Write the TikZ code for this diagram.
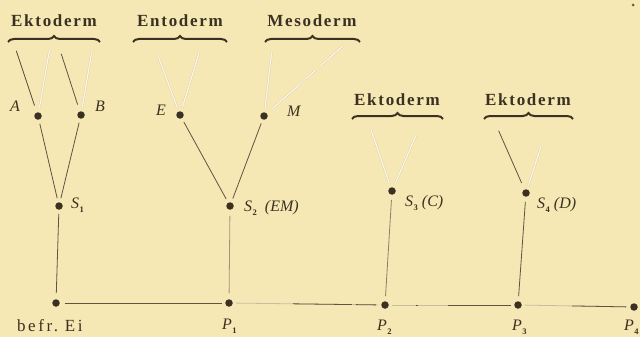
\documentclass[tikz,border=0pt]{standalone}
\usepackage{fontspec}
\setmainfont{Liberation Serif}
\newfontfamily\headfam[LetterSpace=10]{Liberation Serif}
\newfontfamily\spacedfam[LetterSpace=15]{Liberation Serif}
\usetikzlibrary{decorations.pathreplacing}
\definecolor{paper}{HTML}{F6E8B4}
\definecolor{ink}{HTML}{3A3122}
\definecolor{linec}{HTML}{5E5442}
\definecolor{midc}{HTML}{8A8068}
\definecolor{lightc}{HTML}{C9BE9C}
\newcommand\myhead{\headfam\bfseries\fontsize{17}{20}\selectfont}
\newcommand\mylab{\itshape\fontsize{16}{18}\selectfont}
\newcommand\myroman{\spacedfam\fontsize{17}{20}\selectfont}
\newcommand\sub[1]{\kern0.5pt\raisebox{-4pt}{\upshape\bfseries\fontsize{8.5}{8.5}\selectfont #1}}
\begin{document}
\begin{tikzpicture}[x=1pt,y=-1pt,
  dot/.style={circle,fill=ink,inner sep=0pt,minimum size=7.5pt},
  speck/.style={circle,fill=ink!80,inner sep=0pt,minimum size=3pt},
  lab/.style={font=\mylab,text=ink,inner sep=0pt},
  rom/.style={font=\myroman,text=ink,inner sep=0pt},
  head/.style={font=\myhead,text=ink,inner sep=0pt},
  brc/.style={decorate,decoration={brace,amplitude=6pt},draw=ink,line width=2pt},
  dk/.style={draw=linec,line width=0.8pt,shorten <=4pt,shorten >=4pt},
  md/.style={draw=midc,line width=0.8pt,shorten <=4pt,shorten >=4pt},
  ft/.style={draw=paper!72!gray,double=paper!35!white,double distance=1.3pt,line width=0.35pt,shorten <=3pt,shorten >=4pt},
  base/.style={draw=lightc,line width=0.8pt,shorten <=3pt,shorten >=3pt}
]
\fill[paper] (0,0) rectangle (640,337);
\useasboundingbox (0,0) rectangle (640,337);

% head labels
\node[head] (h1) at (54,21) {Ektoderm};
\node[head] (h2) at (180,21) {Entoderm};
\node[head] (h3) at (312,21) {Mesoderm};
\node[head] (h4) at (397,100) {Ektoderm};
\node[head] (h5) at (528,100) {Ektoderm};

% braces
\coordinate (b1l) at (8,42);   \coordinate (b1r) at (100,42);
\coordinate (b2l) at (133,42); \coordinate (b2r) at (227,42);
\coordinate (b3l) at (265,42); \coordinate (b3r) at (360,42);
\coordinate (b4l) at (352,119); \coordinate (b4r) at (443,119);
\coordinate (b5l) at (484,119); \coordinate (b5r) at (573,119);
\draw[brc] (b1l) -- (b1r);
\draw[brc] (b2l) -- (b2r);
\draw[brc] (b3l) -- (b3r);
\draw[brc] (b4l) -- (b4r);
\draw[brc] (b5l) -- (b5r);

% dots
\node[dot] (A) at (38,116) {};
\node[dot] (B) at (81,115) {};
\node[dot] (E) at (180,115) {};
\node[dot] (M) at (264,116) {};
\node[dot] (S1) at (59,206) {};
\node[dot] (S2) at (230,206) {};
\node[dot] (S3) at (392,191) {};
\node[dot] (S4) at (526,193) {};
\node[dot] (P0) at (56,303) {};
\node[dot] (P1) at (229,303) {};
\node[dot] (P2) at (385,305) {};
\node[dot] (P3) at (518,305) {};
\node[dot] (P4) at (634,307) {};
\node[speck] (sp) at (633,5) {};

% free ends of lines from braces
\coordinate (fa1) at (15,47);
\coordinate (fa2) at (50,47);
\coordinate (fb1) at (60,50);
\coordinate (fb2) at (92,50);
\coordinate (fe1) at (157,53);
\coordinate (fe2) at (200,50);
\coordinate (fm1) at (272,50);
\coordinate (fm2) at (345,44);
\coordinate (fc1) at (370,127);
\coordinate (fc2) at (417,133);
\coordinate (fd1) at (497,127);
\coordinate (fd2) at (542,143);

% faint lines
\draw[ft] (fa2) -- (A);
\draw[ft] (fb2) -- (B);
\draw[ft] (fe1) -- (E);
\draw[ft] (fe2) -- (E);
\draw[ft] (fm1) -- (M);
\draw[ft,dash pattern=on 30pt off 6pt on 14pt off 5pt on 40pt] (fm2) -- (M);
\draw[ft] (fc1) -- (S3);
\draw[ft] (fc2) -- (S3);
\draw[ft] (fd2) -- (S4);

% dark lines
\draw[dk,shorten >=7pt] (fa1) -- (A);
\draw[dk,shorten >=7pt] (fb1) -- (B);
\draw[dk,shorten >=7pt] (fd1) -- (S4);
\draw[dk] (A) -- (S1);
\draw[dk] (B) -- (S1);
\draw[dk] (E) -- (S2);
\draw[dk] (M) -- (S2);
\draw[dk,shorten >=6pt] (S1) -- (P0);
\draw[md,draw=midc!80!paper,shorten <=6pt,shorten >=6pt] (S2) -- (P1);
\draw[md,shorten <=5pt,shorten >=5pt] (S3) -- (P2);
\draw[dk,shorten <=5pt,shorten >=5pt] (S4) -- (P3);

% baseline
\draw[dk,shorten <=5pt,shorten >=3pt] (P0) -- (P1);
\draw[base] (P1) -- (P2);
\draw[base] (P2) -- (P3);
\draw[base] (P3) -- (P4);
\draw[dk,shorten <=0pt,shorten >=0pt,dash pattern=on 0pt off 60pt on 59pt off 4pt on 20pt off 200pt] (P1) -- (P2);
\draw[dk,shorten <=0pt,shorten >=0pt,dash pattern=on 0pt off 27pt on 2pt off 30pt on 63pt off 200pt] (P2) -- (P3);
\draw[dk,shorten <=0pt,shorten >=0pt,dash pattern=on 0pt off 50pt on 54pt off 200pt] (P3) -- (P4);

% labels
\node[lab,anchor=base west] (lA) at (10,111) {A};
\node[lab,anchor=base west] (lB) at (95,111) {B};
\node[lab,anchor=base west] (lE) at (156,115) {E};
\node[lab,anchor=base west] (lM) at (287,117) {M};
\node[lab,anchor=base west] (lS1) at (71,208) {S\sub{1}};
\node[lab,anchor=base west] (lS2) at (244,211) {S\sub{2}\ \ (EM)};
\node[lab,anchor=base west] (lS3) at (405,206) {S\sub{3}\ (C)};
\node[lab,anchor=base west] (lS4) at (537,208) {S\sub{4}\ (D)};
\node[rom,anchor=base west] (lP0) at (17,331) {befr.\ Ei};
\node[lab,anchor=base west] (lP1) at (222,329) {P\sub{1}};
\node[lab,anchor=base west] (lP2) at (377,330) {P\sub{2}};
\node[lab,anchor=base west] (lP3) at (512,330) {P\sub{3}};
\node[lab,anchor=base west] (lP4) at (624,330) {P\sub{4}};
\end{tikzpicture}
\end{document}
